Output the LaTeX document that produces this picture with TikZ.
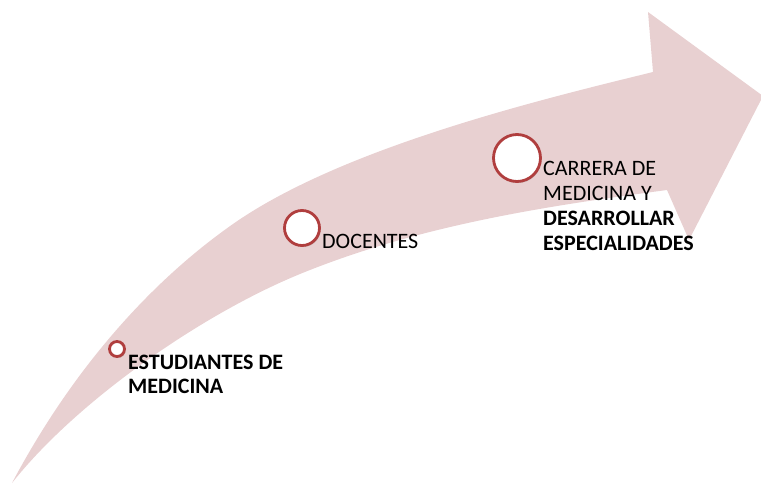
\documentclass[tikz,border=0pt]{standalone}
\usepackage{fontspec}
\setmainfont{Carlito}
\usetikzlibrary{shadows}
\definecolor{arrowpink}{RGB}{232,208,209}
\definecolor{ringred}{RGB}{176,62,62}
\begin{document}
\begin{tikzpicture}[x=1pt,y=-1pt,
  ring/.style={circle,draw=ringred,line width=2.8pt,fill=white,inner sep=0pt,
    drop shadow={shadow xshift=1pt,shadow yshift=-1.5pt,opacity=0.35}},
  label/.style={anchor=base west,inner sep=0pt,align=left,font=\fontsize{22}{25}\selectfont,text=black}]
\useasboundingbox (0,0) rectangle (761,485);
% arrow
\fill[arrowpink] (12,483)
  .. controls (80,355) and (163,273) .. (233,224)
  .. controls (343,147) and (543,99) .. (653,72)
  -- (648,12) -- (763,96) -- (689,240) -- (667,190)
  .. controls (547,206) and (420,225) .. (300,274)
  .. controls (200,315) and (76,402) .. (12,483) -- cycle;
% rings
\node[ring,minimum size=15pt] (c1) at (117,349) {};
\node[ring,minimum size=35pt] (c2) at (302,228) {};
\node[ring,minimum size=47pt] (c3) at (517,158) {};
% labels (anchored at the baseline of the last line)
\node[label,font=\fontsize{22}{24}\selectfont\bfseries] (t1) at (128,393) {ESTUDIANTES DE\\MEDICINA};
\node[label] (t2) at (322,248) {DOCENTES};
\node[label] (t3) at (543,250) {CARRERA DE\\MEDICINA Y\\\textbf{DESARROLLAR}\\\textbf{ESPECIALIDADES}};
\end{tikzpicture}
\end{document}
